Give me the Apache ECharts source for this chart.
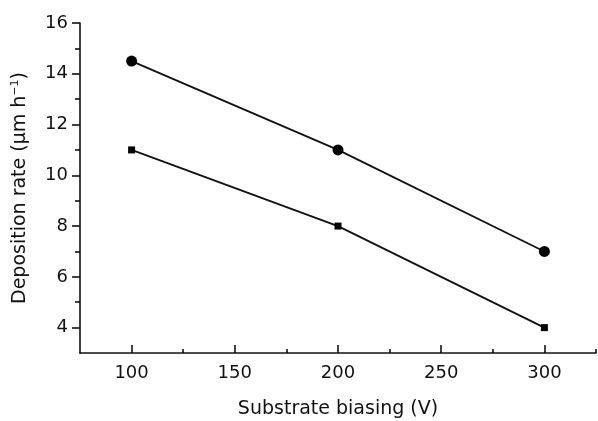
<!DOCTYPE html>
<html>
<head>
<meta charset="utf-8">
<title>Deposition rate</title>
<script src="https://cdn.jsdelivr.net/npm/echarts@6/dist/echarts.min.js"></script>
<style>
    html, body { margin: 0; padding: 0; background: #fff; }
    #chart { width: 598px; height: 421px; }
</style>
</head>
<body>
<div id="chart"></div>
<script>
// data
var biasing = [100, 200, 300];
var rateCircle = [14.5, 11, 7];
var rateSquare = [11, 8, 4];

// tick values
var xMajor = [100, 150, 200, 250, 300];
var xMinor = [125, 175, 225, 275, 325];
var yMajor = [4, 6, 8, 10, 12, 14, 16];
var yMinor = [5, 7, 9, 11, 13, 15];

var FONT = 'DejaVu Sans';

function pairs(xs, ys) {
    var out = [];
    for (var i = 0; i < xs.length; i++) {
        out.push([xs[i], ys[i]]);
    }
    return out;
}

var myChart = echarts.init(document.getElementById('chart'), null, { renderer: 'canvas' });

var axisLine = { show: true, onZero: false, lineStyle: { color: '#111', width: 1.6 } };

var option = {
    backgroundColor: '#fff',
    animation: false,
    // keep the plot box fixed, labels may sit close to the edge
    grid: { left: 80, right: 2, top: 23, bottom: 68, containLabel: false, outerBoundsMode: 'none' },
    xAxis: [{
        type: 'value',
        min: 75,
        max: 325,
        position: 'bottom',
        name: 'Substrate biasing (V)',
        nameLocation: 'middle',
        nameGap: 47,
        nameTextStyle: { fontFamily: FONT, fontSize: 19, color: '#111' },
        axisLine: axisLine,
        axisTick: { inside: true, length: 8, customValues: xMajor, lineStyle: { color: '#111', width: 1.6 } },
        axisLabel: { customValues: xMajor, margin: 11, fontFamily: FONT, fontSize: 18, color: '#111' },
        splitLine: { show: false }
    }, {
        type: 'value',
        min: 75,
        max: 325,
        position: 'bottom',
        axisLine: { show: false, onZero: false },
        axisTick: { inside: true, length: 4, customValues: xMinor, lineStyle: { color: '#111', width: 1.6 } },
        axisLabel: { show: false },
        splitLine: { show: false }
    }],
    yAxis: [{
        type: 'value',
        min: 3,
        max: 16,
        position: 'left',
        name: '{n|Deposition rate (\u03bcm h}{s|\u22121}{n|)}',
        nameLocation: 'middle',
        nameRotate: 90,
        nameGap: 49,
        nameTextStyle: {
            fontFamily: FONT,
            fontSize: 19,
            color: '#111',
            rich: {
                n: { fontFamily: FONT, fontSize: 19, color: '#111' },
                s: { fontFamily: FONT, fontSize: 11, color: '#111', padding: [0, 0, 10, 0] }
            }
        },
        axisLine: axisLine,
        axisTick: { inside: false, length: 8, customValues: yMajor, lineStyle: { color: '#111', width: 1.6 } },
        axisLabel: { customValues: yMajor, margin: 12, fontFamily: FONT, fontSize: 18, color: '#111' },
        splitLine: { show: false }
    }, {
        type: 'value',
        min: 3,
        max: 16,
        position: 'left',
        axisLine: { show: false, onZero: false },
        axisTick: { inside: false, length: 5, customValues: yMinor, lineStyle: { color: '#111', width: 1.6 } },
        axisLabel: { show: false },
        splitLine: { show: false }
    }],
    series: [{
        name: 'circle',
        type: 'line',
        xAxisIndex: 0,
        yAxisIndex: 0,
        data: pairs(biasing, rateCircle),
        symbol: 'circle',
        symbolSize: 11,
        lineStyle: { color: '#111', width: 1.8 },
        itemStyle: { color: '#000' }
    }, {
        name: 'square',
        type: 'line',
        xAxisIndex: 0,
        yAxisIndex: 0,
        data: pairs(biasing, rateSquare),
        symbol: 'rect',
        symbolSize: 7,
        lineStyle: { color: '#111', width: 1.8 },
        itemStyle: { color: '#000' }
    }]
};

myChart.setOption(option);
window.addEventListener('resize', function() {
    myChart.resize();
});
</script>
</body>
</html>
